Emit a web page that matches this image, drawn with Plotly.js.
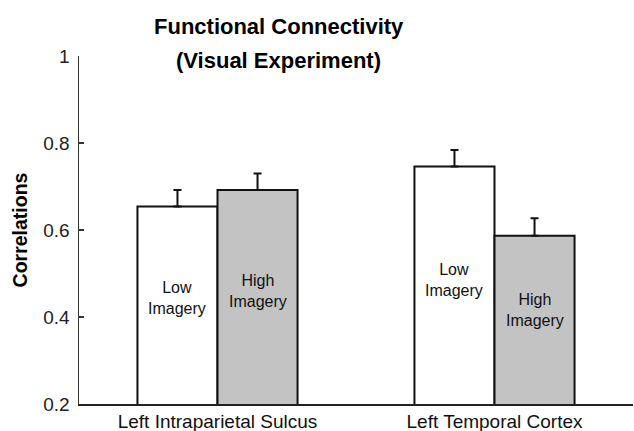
<!DOCTYPE html>
<html>
<head>
<meta charset="utf-8">
<script src="https://cdn.plot.ly/plotly-3.0.1.min.js"></script>
<style>html,body{margin:0;padding:0;background:#fff}#chart{width:634px;height:431px}</style>
</head>
<body>
<div id="chart"></div>
<script>
var categories = ['Left Intraparietal Sulcus', 'Left Temporal Cortex'];
var lowImagery = [0.654, 0.746];
var lowImageryErr = [0.038, 0.038];
var highImagery = [0.692, 0.587];
var highImageryErr = [0.038, 0.040];
var yTickVals = [0.2, 0.4, 0.6, 0.8, 1];
var yTickText = ['0.2', '0.4', '0.6', '0.8', '1'];
var titleLines = ['Functional Connectivity', '(Visual Experiment)'];
var lowLabel = 'Low<br>Imagery';
var highLabel = 'High<br>Imagery';

var FONT = 'Liberation Sans, Arial, sans-serif';
var zeros = categories.map(function(){return 0;});

function errStyle(arr){
  return {type:'data', array:arr, arrayminus:zeros, symmetric:false,
          visible:true, color:'#111', thickness:2, width:4};
}

var traces = [
  {type:'bar', name:'Low Imagery', x:categories, y:lowImagery,
   marker:{color:'#ffffff', line:{color:'#111', width:2}},
   error_y:errStyle(lowImageryErr), hoverinfo:'y'},
  {type:'bar', name:'High Imagery', x:categories, y:highImagery,
   marker:{color:'#c3c3c3', line:{color:'#111', width:2}},
   error_y:errStyle(highImageryErr), hoverinfo:'y'}
];

var bargap = 0.422;
var half = (1 - bargap) / 4;
// label vertical centers (layout decoration inside each bar)
var labelY = [[0.444, 0.460], [0.485, 0.416]];
var annotations = [];
categories.forEach(function(c, i){
  annotations.push({x:i - half, y:labelY[i][0], xref:'x', yref:'y', text:lowLabel,
    showarrow:false, font:{family:FONT, size:16, color:'#111'}, align:'center'});
  annotations.push({x:i + half, y:labelY[i][1], xref:'x', yref:'y', text:highLabel,
    showarrow:false, font:{family:FONT, size:16, color:'#111'}, align:'center'});
});
annotations.push({x:0.361, y:1.084, xref:'paper', yref:'paper', text:'<b>'+titleLines[0]+'</b>',
  showarrow:false, xanchor:'center', yanchor:'middle', font:{family:FONT, size:22, color:'#000'}});
annotations.push({x:0.361, y:0.986, xref:'paper', yref:'paper', text:'<b>'+titleLines[1]+'</b>',
  showarrow:false, xanchor:'center', yanchor:'middle', font:{family:FONT, size:22, color:'#000'}});

var layout = {
  width:634, height:431,
  margin:{l:79, r:1, t:56, b:27, pad:0},
  paper_bgcolor:'#fff', plot_bgcolor:'#fff',
  showlegend:false,
  barmode:'group', bargap:bargap, bargroupgap:0,
  font:{family:FONT, color:'#111'},
  xaxis:{type:'category', range:[-0.5, 1.5], showline:true, linecolor:'#222', linewidth:1.5,
    ticks:'', showgrid:false, zeroline:false, fixedrange:true,
    tickfont:{family:FONT, size:19, color:'#111'}},
  yaxis:{range:[0.2, 1], showline:true, linecolor:'#333', linewidth:1.5,
    ticks:'inside', ticklen:5, tickwidth:1.5, tickcolor:'#333',
    tickvals:yTickVals, ticktext:yTickText, showgrid:false, zeroline:false,
    ticklabelstandoff:4,
    tickfont:{family:FONT, size:19, color:'#222'},
    title:{text:'<b>Correlations</b>', standoff:10, font:{family:FONT, size:19.5, color:'#000'}}},
  annotations:annotations
};

Plotly.newPlot('chart', traces, layout, {displayModeBar:false, staticPlot:true});
</script>
</body>
</html>
